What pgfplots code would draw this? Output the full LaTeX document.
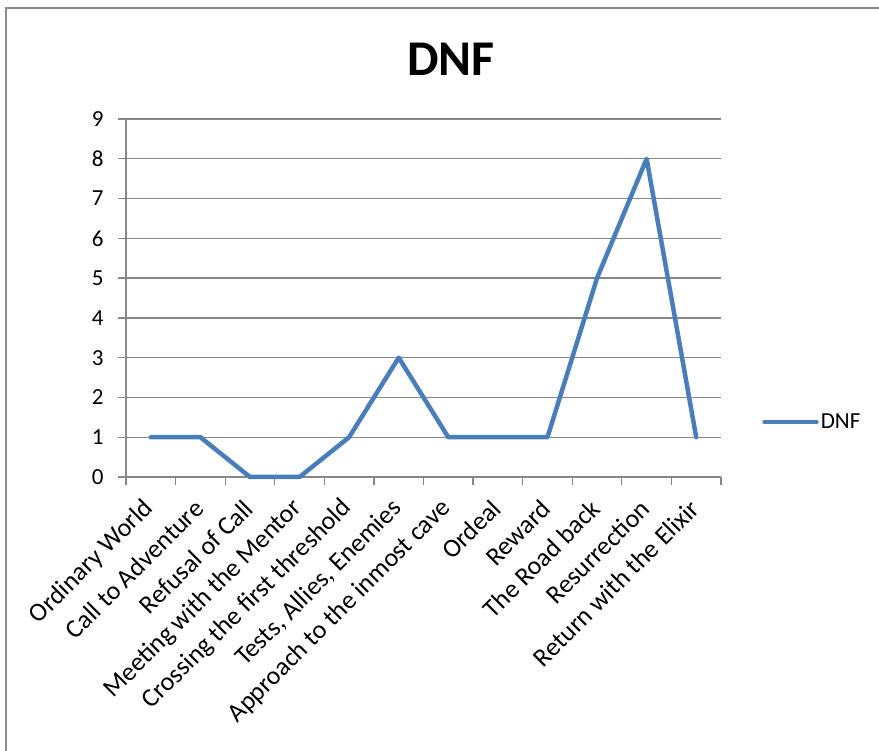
\documentclass[border=0pt]{standalone}
\usepackage{pgfplots}
\pgfplotsset{compat=1.18}
\usepackage{fontspec}
\setmainfont{Carlito}
\definecolor{serblue}{HTML}{4A7EBB}
\definecolor{gridgray}{HTML}{878787}
\definecolor{framegray}{HTML}{8C8C8C}
\begin{document}
\begin{tikzpicture}[x=1pt,y=1pt]
\useasboundingbox (0,0) rectangle (879,751);
\draw[framegray, line width=1.5pt] (6,0) -- (6,743) -- (879,743);
\node[font=\bfseries\fontsize{50}{56}\selectfont, anchor=base] at (451,675) {DNF};
\begin{axis}[
  at={(126pt,274pt)}, anchor=south west,
  scale only axis, width=595pt, height=358pt,
  xmin=-0.5, xmax=11.5, ymin=0, ymax=9,
  ytick={0,1,2,3,4,5,6,7,8,9},
  xtick={-0.5,0.5,1.5,2.5,3.5,4.5,5.5,6.5,7.5,8.5,9.5,10.5,11.5},
  xticklabels={},
  extra x ticks={0,1,2,3,4,5,6,7,8,9,10,11},
  extra x tick labels={Ordinary World,Call to Adventure,Refusal of Call,Meeting with the Mentor,Crossing the first threshold,{Tests, Allies, Enemies},Approach to the inmost cave,Ordeal,Reward,The Road back,Resurrection,Return with the Elixir},
  extra x tick style={major tick length=0pt, grid=none,
    xticklabel style={xshift=1pt, yshift=-25pt, rotate=45, anchor=east, font=\fontsize{26}{30}\selectfont}},
  axis x line*=bottom, axis y line*=left,
  axis line style={gridgray, line width=1.3pt, -},
  tick align=outside, major tick length=8pt,
  tick style={gridgray, line width=1.3pt},
  ymajorgrids, grid style={gridgray, line width=1.3pt},
  /pgf/number format/assume math mode=true,
  yticklabel style={font=\fontsize{23}{27}\selectfont, xshift=-11pt},
  legend style={at={(1.069,0.154)}, anchor=west, draw=none, fill=none, inner sep=0pt,
    font=\fontsize{23}{27}\selectfont, legend cell align=left},
  legend image code/.code={\draw[#1] (0pt,0pt) -- (52pt,0pt);},
  clip=false,
]
\addplot[serblue, line width=4.5pt, line join=round, line cap=round] coordinates {
(0,1) (1,1) (2,0) (3,0) (4,1) (5,3) (6,1) (7,1) (8,1) (9,5) (10,8) (11,1)};
\addlegendentry{DNF}
\end{axis}
\end{tikzpicture}
\end{document}
